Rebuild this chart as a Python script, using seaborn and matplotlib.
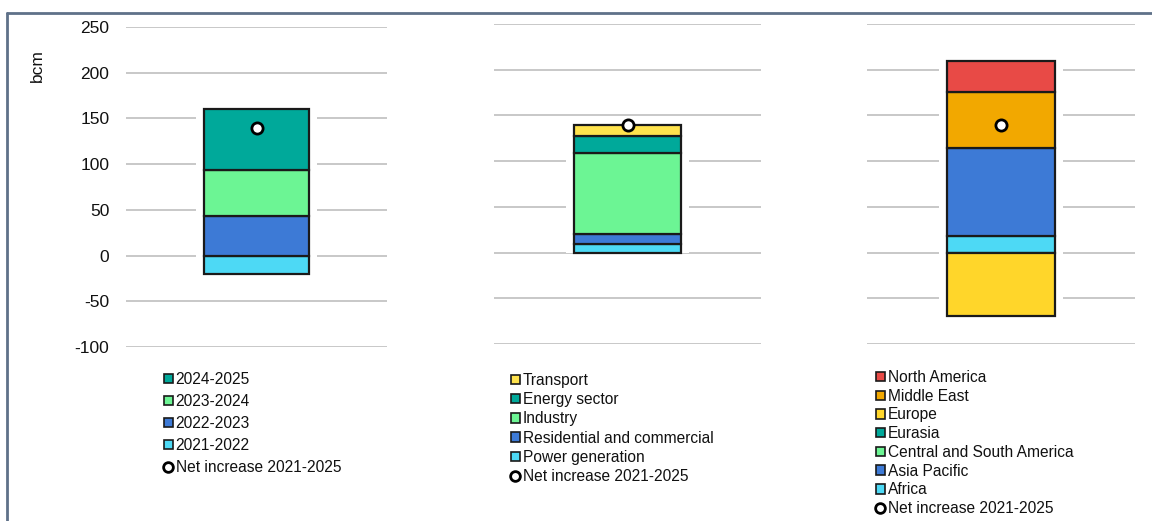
import numpy as np
import pandas as pd
import matplotlib
matplotlib.use("Agg")
import matplotlib.pyplot as plt
from matplotlib.lines import Line2D
from matplotlib.patches import Patch
import seaborn as sns

# Painel 1: por ano
anos = ["2021-2022", "2022-2023", "2023-2024", "2024-2025"]
anos_valores = [-20, 43, 51, 66]
anos_cores = ["#4dd9f5", "#3d7ad6", "#6cf594", "#00a99a"]
anos_liquido = 140

# Painel 2: por setor
setores = ["Power generation", "Residential and commercial", "Industry",
           "Energy sector", "Transport"]
setores_valores = [9, 11, 89, 19, 11]
setores_cores = ["#4dd9f5", "#3d7ad6", "#6cf594", "#00a99a", "#ffe34d"]
setores_liquido = 139

# Painel 3: por regiao
regioes = ["Africa", "Asia Pacific", "Central and South America", "Eurasia",
           "Europe", "Middle East", "North America"]
regioes_valores = [18, 96, 0, 0, -69, 62, 34]
regioes_cores = ["#4dd9f5", "#3d7ad6", "#6cf594", "#00a99a", "#ffd62a",
                 "#f2a800", "#e84a46"]
regioes_liquido = 140

sns.set_theme(style="white")
plt.rcParams["font.family"] = ["Liberation Sans", "DejaVu Sans"]
plt.rcParams["axes.unicode_minus"] = False
plt.rcParams["text.color"] = "#111111"
plt.rcParams["ytick.color"] = "#111111"
plt.rcParams["axes.labelcolor"] = "#111111"

fig = plt.figure(figsize=(11.52, 5.21), dpi=100)
W, H = 1152, 521


def eixo(x0, x1, y_top=27, y_bot=347):
    return fig.add_axes([x0 / W, 1 - y_bot / H, (x1 - x0) / W, (y_bot - y_top) / H])


def painel(ax, nomes, valores, cores, liquido, leg_x, leg_y, espaco):
    ax.set_ylim(-100, 250)
    ax.set_yticks(np.arange(-100, 251, 50))
    ax.yaxis.grid(True, color="#c4c4c4", linewidth=1.3)
    ax.set_axisbelow(True)
    sns.despine(ax=ax, left=True, bottom=True)

    # empilhamento: positivos para cima, negativos para baixo
    pos, neg = 0, 0
    bases = []
    for v in valores:
        if v >= 0:
            bases.append(pos)
            pos += v
        else:
            bases.append(neg)
            neg += v

    # fundo branco para cortar as linhas de grade
    sns.barplot(x=["x"], y=[pos - neg], bottom=neg, width=0.46, color="white",
                edgecolor="white", linewidth=0, ax=ax, zorder=2)
    for v, b, c in zip(valores, bases, cores):
        if v == 0:
            continue
        sns.barplot(x=["x"], y=[v], bottom=b, width=0.4, color=c,
                    edgecolor="#1a1a1a", linewidth=1.6, saturation=1, ax=ax, zorder=3)
    sns.scatterplot(x=["x"], y=[liquido], s=65, color="white", edgecolor="black",
                    linewidth=2, ax=ax, zorder=5)
    ax.set_xlim(-0.5, 0.5)
    ax.set_xticks([])
    ax.set_xlabel("")
    ax.set_ylabel("")

    handles = [Patch(facecolor=c, edgecolor="#1a1a1a", linewidth=1.2)
               for c in cores[::-1]]
    labels = list(nomes[::-1])
    handles.append(Line2D([], [], marker="o", linestyle="", markersize=7,
                          markerfacecolor="white", markeredgecolor="black",
                          markeredgewidth=2))
    labels.append("Net increase 2021-2025")
    fig.legend(handles, labels, loc="upper left",
               bbox_to_anchor=(leg_x / W, 1 - leg_y / H), frameon=False,
               fontsize=11.2, handlelength=0.55, handleheight=0.55,
               handletextpad=0.2, labelspacing=espaco, borderpad=0,
               borderaxespad=0)


ax1 = eixo(126, 387)
painel(ax1, anos, anos_valores, anos_cores, anos_liquido, 164, 372, 0.45)
ax1.tick_params(axis="y", labelsize=12.5, pad=12, length=0)
ax1.set_ylabel("bcm", fontsize=12.5)
ax1.yaxis.set_label_coords(-0.31, 0.88)

ax2 = eixo(494, 761, y_top=24, y_bot=344)
painel(ax2, setores, setores_valores, setores_cores, setores_liquido, 511, 373, 0.27)
ax2.set_yticklabels([])
ax2.tick_params(axis="y", length=0)

ax3 = eixo(867, 1135, y_top=24, y_bot=344)
painel(ax3, regioes, regioes_valores, regioes_cores, regioes_liquido, 876, 370, 0.24)
ax3.set_yticklabels([])
ax3.tick_params(axis="y", length=0)

# moldura da captura
fig.add_artist(Line2D([7 / W, 1], [1 - 13 / H, 1 - 13 / H], color="#5f7189",
                      linewidth=2, transform=fig.transFigure))
fig.add_artist(Line2D([7 / W, 7 / W], [0, 1 - 13 / H], color="#5f7189",
                      linewidth=2, transform=fig.transFigure))

fig.savefig("out.png", dpi=100, facecolor="white")
